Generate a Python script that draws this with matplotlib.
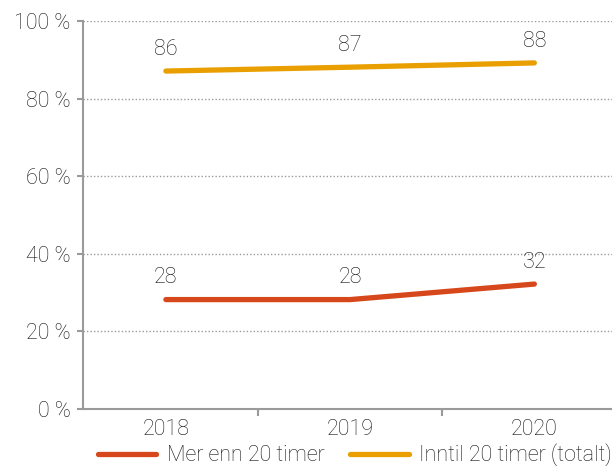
import numpy as np
import matplotlib.pyplot as plt

years = ['2018', '2019', '2020']
mer_enn = [28.2, 28.2, 32.2]
inntil = [87.1, 88.1, 89.2]
mer_enn_labels = ['28', '28', '32']
inntil_labels = ['86', '87', '88']
y_ticks = [0, 20, 40, 60, 80, 100]

red = '#D6471B'
gold = '#E99F00'
grey = '#9a9a9a'
txt = '#141414'

plt.rcParams['font.family'] = ['Roboto', 'DejaVu Sans']
plt.rcParams['font.weight'] = 'light'

fig = plt.figure(figsize=(6.12, 4.70), dpi=100)
ax = fig.add_axes([0.1356, 0.1298, 0.87, 0.8255])

x = np.arange(len(years))
l1, = ax.plot(x, mer_enn, color=red, lw=3.8, solid_capstyle='round', label='Mer enn 20 timer')
l2, = ax.plot(x, inntil, color=gold, lw=3.8, solid_capstyle='round', label='Inntil 20 timer (totalt)')

for i in range(len(years)):
    ax.annotate(mer_enn_labels[i], (x[i], mer_enn[i]), xytext=(0, 8), textcoords='offset points',
                ha='center', va='bottom', fontsize=15.5, color=txt)
    ax.annotate(inntil_labels[i], (x[i], inntil[i]), xytext=(0, 8), textcoords='offset points',
                ha='center', va='bottom', fontsize=15.5, color=txt)

ax.set_xlim(-0.45, 2.44)
ax.set_ylim(0, 100)
ax.set_yticks(y_ticks)
ax.set_yticklabels([f'{v} %' for v in y_ticks])
ax.set_xticks(x)
ax.set_xticklabels(years)
ax.set_xticks([0.5, 1.5], minor=True)
ax.tick_params(axis='x', which='major', length=0, pad=7, labelsize=15.5, colors=txt)
ax.tick_params(axis='x', which='minor', length=5, width=1.5, color=grey)
ax.tick_params(axis='y', length=4, width=1.5, color=grey, labelsize=15.5, labelcolor=txt, pad=5)

for s in ['top', 'right']:
    ax.spines[s].set_visible(False)
for s in ['left', 'bottom']:
    ax.spines[s].set_color(grey)
    ax.spines[s].set_linewidth(1.5)

ax.grid(axis='y', linestyle=(0, (1, 1.5)), color=grey, lw=1)
ax.set_axisbelow(True)

fig.legend(handles=[l1, l2], loc='center', bbox_to_anchor=(0.58, 0.032), ncol=2, frameon=False,
           fontsize=15.5, handlelength=2.7, handletextpad=0.5, columnspacing=1.2,
           labelcolor=txt)

fig.savefig('out.png', dpi=100)
